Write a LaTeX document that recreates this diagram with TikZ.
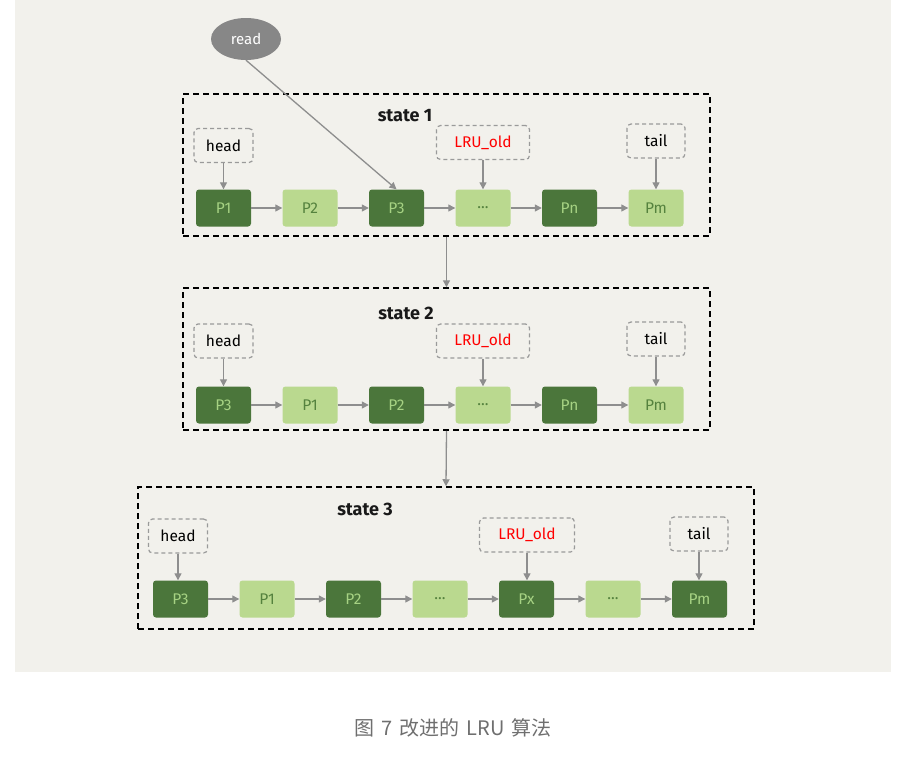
\documentclass[tikz,border=0pt]{standalone}
\usepackage{fontspec}
\setmainfont{Fira Sans}
\newfontfamily\cjk{Noto Sans CJK SC}
\usetikzlibrary{arrows.meta,shapes.geometric}
\definecolor{bgc}{HTML}{F2F1EC}
\definecolor{dkg}{HTML}{4B763B}
\definecolor{ltg}{HTML}{BAD98F}
\definecolor{dkt}{HTML}{A6D283}
\definecolor{ltt}{HTML}{55823E}
\definecolor{lblg}{HTML}{9A9A9A}
\definecolor{arrg}{HTML}{8E8E8E}
\definecolor{capg}{HTML}{6F6F6F}
\tikzset{
  pg/.style={rectangle, rounded corners=3pt, minimum width=55pt, minimum height=37pt, inner sep=0pt, font=\fontsize{15.5}{17}\selectfont},
  dk/.style={pg, fill=dkg, text=dkt},
  lt/.style={pg, fill=ltg, text=ltt},
  lbl/.style={draw=lblg, line width=1.2pt, dash pattern=on 4pt off 3pt, rounded corners=4pt, minimum height=34pt, minimum width=59pt, inner sep=0pt, font=\fontsize{15.5}{17}\selectfont},
  stbox/.style={draw=black, line width=1.5pt, dash pattern=on 6pt off 4pt, inner sep=0pt},
  sttitle/.style={font=\fontsize{18}{20}\selectfont\bfseries, text=black!90},
  arr/.style={draw=arrg, line width=1.3pt, -{Triangle[length=7pt,width=7pt]}}
}
\begin{document}
\begin{tikzpicture}[x=1pt,y=-1pt]
\useasboundingbox (0,0) rectangle (898,758);
\fill[bgc] (15,0) rectangle (891,672);

% state boxes
\node[stbox, minimum width=527pt, minimum height=142pt] (s1) at (446.5,165) {};
\node[stbox, minimum width=527pt, minimum height=142pt] (s2) at (446.5,359) {};
\node[stbox, minimum width=616pt, minimum height=142pt] (s3) at (446,558) {};
\node[sttitle] (t1) at (405,116) {state 1};
\node[sttitle] (t2) at (406,313) {state 2};
\node[sttitle] (t3) at (365,509) {state 3};

% read
\node[ellipse, fill=arrg!95!black, text=white, minimum width=70pt, minimum height=42pt, inner sep=0pt, font=\fontsize{15}{17}\selectfont] (read) at (246,39) {read};

% state 1
\node[dk] (a1) at (223.5,208) {P1};
\node[lt] (a2) at (310,208) {P2};
\node[dk] (a3) at (396.5,208) {P3};
\node[lt] (a4) at (483,208) {...};
\node[dk] (a5) at (569.5,208) {Pn};
\node[lt] (a6) at (656,208) {Pm};
\node[lbl] (ah) at (223.5,145.5) {head};
\node[lbl, minimum width=93pt, text=red] (ao) at (483,142.5) {LRU\_old};
\node[lbl, minimum width=58pt] (at) at (656,141) {tail};

% state 2
\node[dk] (b1) at (223.5,405) {P3};
\node[lt] (b2) at (310,405) {P1};
\node[dk] (b3) at (396.5,405) {P2};
\node[lt] (b4) at (483,405) {...};
\node[dk] (b5) at (569.5,405) {Pn};
\node[lt] (b6) at (656,405) {Pm};
\node[lbl] (bh) at (223.5,341) {head};
\node[lbl, minimum width=93pt, text=red] (bo) at (483,341) {LRU\_old};
\node[lbl, minimum width=58pt] (bt) at (656,339) {tail};

% state 3
\node[dk] (c1) at (180.5,599) {P3};
\node[lt] (c2) at (267,599) {P1};
\node[dk] (c3) at (353.5,599) {P2};
\node[lt] (c4) at (440,599) {...};
\node[dk] (c5) at (526.5,599) {Px};
\node[lt] (c6) at (613,599) {...};
\node[dk] (c7) at (699.5,599) {Pm};
\node[lbl] (ch) at (178,536) {head};
\node[lbl, minimum width=95pt, text=red] (co) at (527,535) {LRU\_old};
\node[lbl, minimum width=58pt] (ct) at (699,534) {tail};

% connectors
\draw[arr] (read.south) -- (a3.north);
\foreach \p/\q in {a1/a2,a2/a3,a3/a4,a4/a5,a5/a6,b1/b2,b2/b3,b3/b4,b4/b5,b5/b6,c1/c2,c2/c3,c3/c4,c4/c5,c5/c6,c6/c7}
  \draw[arr] (\p.east) -- (\q.west);
\foreach \p/\q in {ah/a1,ao/a4,at/a6,bh/b1,bo/b4,bt/b6,ch/c1,co/c5,ct/c7}
  \draw[arr] (\p.south) -- (\p.south |- \q.north);
\draw[arr] (s1.south) -- (s2.north);
\draw[arr] (s2.south) -- (s3.north);

% caption
\node[font=\cjk\fontsize{20}{24}\selectfont, text=capg] (cap) at (453,727.5) {图\hspace{0.35em}7\hspace{0.35em}改进的\hspace{0.35em}LRU\hspace{0.35em}算法};
\end{tikzpicture}
\end{document}
